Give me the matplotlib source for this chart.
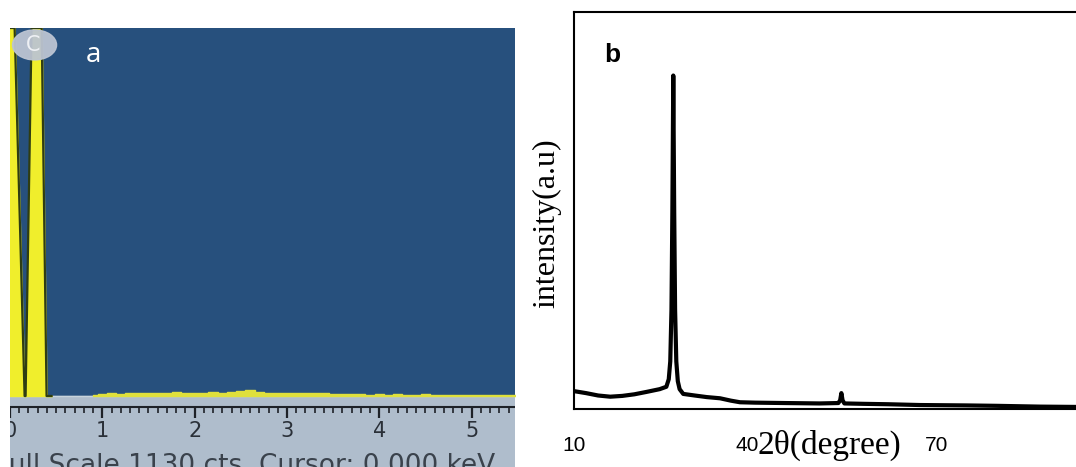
import numpy as np
import matplotlib
matplotlib.use("Agg")
import matplotlib.pyplot as plt
from matplotlib.patches import Ellipse

# ---- panel a : EDS spectrum (screen capture look) ----
eds_peak_kev = [0.0, 0.05, 0.158, 0.163, 0.169, 0.234, 0.343, 0.396, 0.45]
eds_peak_cts = [1130, 1130, 0, 0, 0, 1130, 1130, 0, 0]

eds_noise_kev = np.round(np.arange(0.9, 5.51, 0.1), 2)
eds_noise_cts = [4, 7, 8, 7, 9, 8, 10, 9, 10, 11, 9, 10, 9, 11, 10, 11, 15, 17, 12,
                 10, 8, 10, 8, 9, 9, 8, 7, 6, 5, 6, 4, 5, 4, 5, 4, 4, 5, 4, 4,
                 4, 3, 4, 3, 4, 3, 4, 3]
eds_ticks = [0, 1, 2, 3, 4, 5]

# ---- panel b : XRD pattern ----
two_theta = [10, 12, 14, 16, 18, 20, 22, 24.2, 25.3, 25.7, 25.95, 26.15, 26.3, 26.45,
             26.6, 26.75, 26.95, 27.2, 27.5, 28.1, 30, 32, 34.2, 36, 37.5, 40, 45, 50.7,
             53.8, 54.1, 54.3, 54.5, 54.8, 58, 62, 67.3, 75, 80, 87.2, 95]
intensity = [4.5, 4.0, 3.4, 3.1, 3.3, 3.7, 4.3, 5.0, 5.6, 7.5, 12, 25, 50, 84,
             50, 25, 12, 7, 5, 3.8, 3.4, 3.0, 2.7, 2.1, 1.7, 1.6, 1.5, 1.4,
             1.5, 2.2, 4.0, 2.2, 1.4, 1.3, 1.2, 1.0, 0.9, 0.8, 0.6, 0.5]
xrd_tick_pos = [10, 38.7, 70]
xrd_tick_labels = ['10', '40', '70']

W, H = 1076, 467
fig = plt.figure(figsize=(W / 100, H / 100), dpi=100)

blue = '#27507d'
gray = '#afbdcc'
yellow = '#f0ee2c'

# left panel
ax1 = fig.add_axes([10 / W, 0, 505 / W, (467 - 28) / H])
ax1.set_facecolor(blue)
ax1.set_xlim(0, 5.47)
ax1.set_ylim(-218, 1130)
ax1.axhspan(-218, 0, color=gray, zorder=1)
ax1.axhline(0, color='#c8d4dc', lw=1, zorder=2)

ax1.fill_between(eds_peak_kev, eds_peak_cts, color=yellow, zorder=3)
ax1.plot(eds_peak_kev, eds_peak_cts, color='#2f3d12', lw=1.6, zorder=4)
ax1.fill_between(eds_noise_kev, eds_noise_cts, step='mid', color='#dfe03c', zorder=3)

# scale bar in the gray strip
minor = np.round(np.arange(0, 5.51, 0.1), 2)
ax1.hlines(-35, 0, 5.5, color='#1e2228', lw=1.5, zorder=5)
ax1.vlines(minor, -51, -35, color='#1e2228', lw=1.2, zorder=5)
ax1.vlines(eds_ticks, -68, -35, color='#1e2228', lw=1.6, zorder=5)
for t in eds_ticks:
    ax1.text(t, -106, str(t), ha='center', va='center', fontsize=15,
             family='DejaVu Sans', color='#2a3038', zorder=6, clip_on=True)
ax1.text(-0.16, -237, 'Full Scale 1130 cts  Cursor: 0.000 keV', ha='left', va='baseline',
         fontsize=19, family='DejaVu Sans', color='#3a424c', zorder=6, clip_on=True)

ax1.add_patch(Ellipse((0.266, 1078), 0.477, 92, color='#bcc4d2', alpha=0.95, zorder=6))
ax1.text(0.25, 1078, 'C', ha='center', va='center', fontsize=15, color='#eef0f4', zorder=7)
ax1.text(0.905, 1047, 'a', ha='center', va='center', fontsize=20, family='Open Sans',
         color='white', zorder=7)
ax1.set_xticks([])
ax1.set_yticks([])
for s in ax1.spines.values():
    s.set_visible(False)

# right panel
ax2 = fig.add_axes([574 / W, (467 - 409) / H, (1087 - 574) / W, (409 - 12) / H])
ax2.plot(two_theta, intensity, color='black', lw=3, solid_joinstyle='round')
ax2.set_xlim(10, 95)
ax2.set_ylim(0, 100)
ax2.set_xticks([])
ax2.set_yticks([])
for s in ax2.spines.values():
    s.set_linewidth(1.5)

for p, lab in zip(xrd_tick_pos, xrd_tick_labels):
    ax2.text(p, -9.1, lab, ha='center', va='center', fontsize=15,
             family='Liberation Sans', clip_on=False)
ax2.text(52.3, -9.1, '2θ(degree)', ha='center', va='center', fontsize=24,
         family='Liberation Serif', clip_on=False)
ax2.text(5.5, 46.9, 'intensity(a.u)', ha='center', va='center', rotation=90,
         fontsize=23, family='Liberation Serif', clip_on=False)
ax2.text(16.3, 89.2, 'b', ha='center', va='center', fontsize=19, fontweight='bold',
         family='Liberation Sans')

fig.savefig('out.png', dpi=100)
